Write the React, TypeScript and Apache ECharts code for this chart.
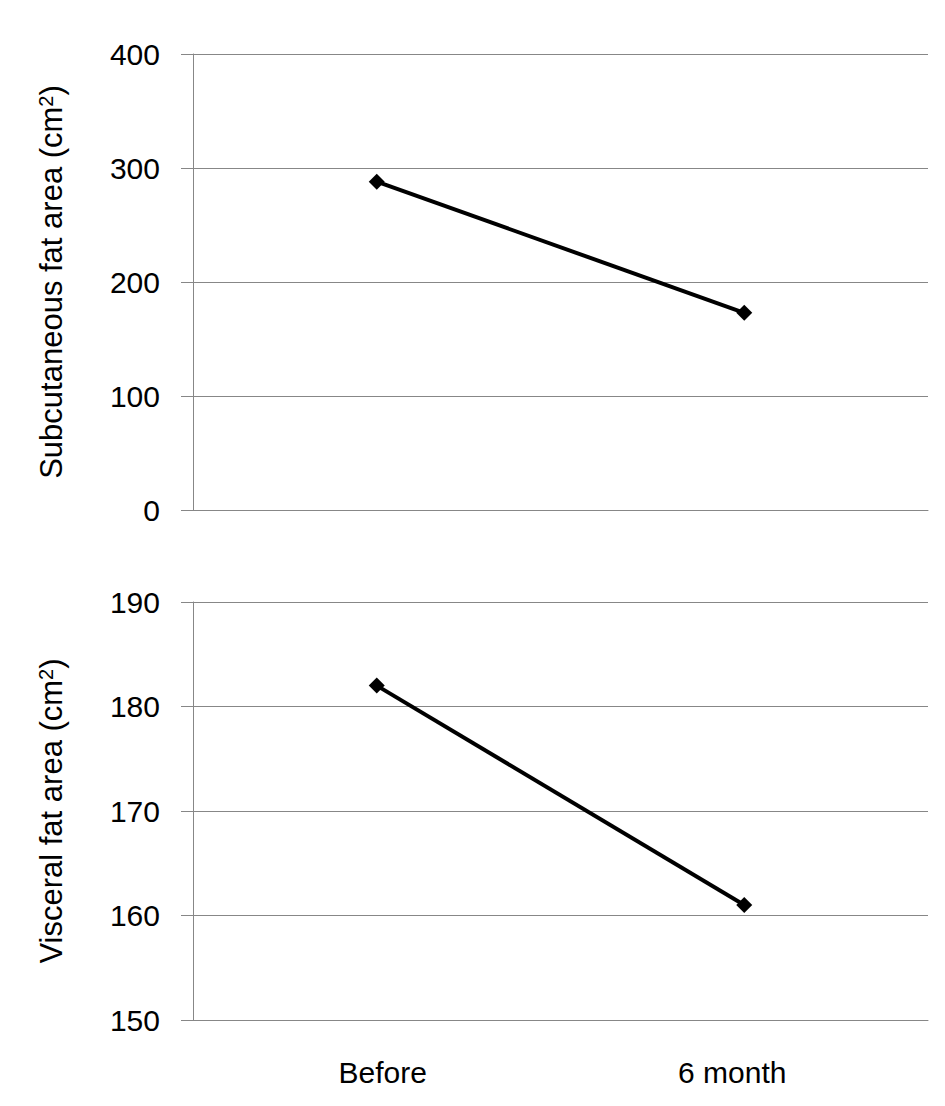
import React, { useEffect, useRef } from "react";
import * as echarts from "echarts";

const categories = ["Before", "6 month"];
const subcutaneous = [288, 173];
const visceral = [182, 161];
const topTicks = { min: 0, max: 400, interval: 100 };
const bottomTicks = { min: 150, max: 190, interval: 10 };
const topName = "Subcutaneous fat area (cm";
const bottomName = "Visceral fat area (cm";

const GRAY = "#878787";
const FONT = "Liberation Sans, Arial, sans-serif";

export default function App() {
  const ref = useRef<HTMLDivElement>(null);
  useEffect(() => {
    if (!ref.current) return;
    const chart = echarts.init(ref.current, undefined, { renderer: "svg" });
    const yAxisCommon = (name: string, t: { min: number; max: number; interval: number }) => ({
      type: "value",
      min: t.min,
      max: t.max,
      interval: t.interval,
      name: `{n|${name}}{s|2}{n|)}`,
      nameLocation: "middle",
      nameGap: 126,
      nameTextStyle: {
        color: "#000",
        fontSize: 31,
        fontFamily: FONT,
        rich: {
          n: { fontSize: 31, fontFamily: FONT, color: "#000" },
          s: { fontSize: 20, fontFamily: FONT, color: "#000", verticalAlign: "top", lineHeight: 31 },
        },
      },
      axisLine: { show: true, lineStyle: { color: GRAY, width: 1 } },
      axisTick: { show: true, length: 12, lineStyle: { color: GRAY, width: 1 } },
      axisLabel: { color: "#000", fontSize: 30, fontFamily: FONT, margin: 33 },
      splitLine: { show: true, lineStyle: { color: GRAY, width: 1 } },
    });
    const labelPads = [[0, 0, 0, 12], [0, 24, 0, 0]];
    const xAxisCommon = (showLabels: boolean) => ({
      type: "category",
      data: categories.map((c, i) => ({ value: c, textStyle: { padding: labelPads[i] } })),
      boundaryGap: true,
      axisLine: { show: true, lineStyle: { color: GRAY, width: 1 } },
      axisTick: { show: false },
      axisLabel: { show: showLabels, color: "#000", fontSize: 30, fontFamily: FONT, margin: 37 },
      splitLine: { show: false },
    });
    const seriesCommon = {
      type: "line",
      symbol: "diamond",
      symbolSize: 16,
      lineStyle: { color: "#000", width: 4 },
      itemStyle: { color: "#000" },
    };
    chart.setOption({
      animation: false,
      backgroundColor: "#fff",
      grid: [
        { left: 185, top: 46, width: 735, height: 456 },
        { left: 185, top: 594, width: 735, height: 418 },
      ],
      xAxis: [
        { ...xAxisCommon(false), gridIndex: 0 },
        { ...xAxisCommon(true), gridIndex: 1 },
      ],
      yAxis: [
        { ...yAxisCommon(topName, topTicks), gridIndex: 0 },
        { ...yAxisCommon(bottomName, bottomTicks), gridIndex: 1 },
      ],
      series: [
        { ...seriesCommon, name: "Subcutaneous", xAxisIndex: 0, yAxisIndex: 0, data: subcutaneous },
        { ...seriesCommon, name: "Visceral", xAxisIndex: 1, yAxisIndex: 1, data: visceral },
      ],
    });
    return () => chart.dispose();
  }, []);
  return <div ref={ref} style={{ width: 929, height: 1090 }} />;
}
